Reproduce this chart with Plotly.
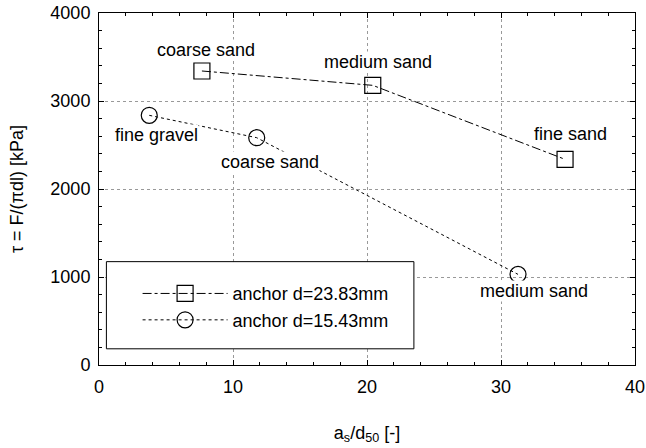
import plotly.graph_objects as go

# data
sq_x = [7.68, 20.43, 34.78]
sq_y = [3341, 3178, 2337]
sq_labels = ["coarse sand", "medium sand", "fine sand"]
ci_x = [3.75, 11.77, 31.27]
ci_y = [2837, 2583, 1030]
ci_labels = ["fine gravel", "coarse sand", "medium sand"]
label_sq_pos = [(8.0, 3580), (20.8, 3443), (35.2, 2621)]
label_ci_pos = [(4.3, 2610), (12.75, 2307), (32.47, 841)]

FONT = "Liberation Sans, Arial, sans-serif"
FS = 18

fig = go.Figure()
fig.add_trace(go.Scatter(
    x=sq_x, y=sq_y, mode="lines+markers", name="anchor d=23.83mm",
    line=dict(color="black", width=1, dash="dashdot"),
    marker=dict(symbol="square-open", size=16, color="black", line=dict(width=1.2)),
))
fig.add_trace(go.Scatter(
    x=ci_x, y=ci_y, mode="lines+markers", name="anchor d=15.43mm",
    line=dict(color="black", width=1, dash="dot"),
    marker=dict(symbol="circle-open", size=16, color="black", line=dict(width=1.2)),
))

for (px, py), t in zip(label_sq_pos + label_ci_pos, sq_labels + ci_labels):
    fig.add_annotation(x=px, y=py, text=t, showarrow=False,
                       font=dict(size=FS, color="black", family=FONT),
                       bgcolor="white", borderpad=0)

axis_common = dict(
    showline=True, linecolor="black", linewidth=1, mirror="ticks",
    ticks="inside", ticklen=5, tickcolor="black",
    showgrid=True, gridcolor="#999999", griddash="dot", gridwidth=1,
    zeroline=False, tickfont=dict(size=FS, color="black", family=FONT),
    automargin=False, ticklabeloverflow="allow",
)

fig.update_xaxes(range=[0, 40], dtick=10, ticklabelstandoff=5,
                 minor=dict(dtick=2, ticks="inside", ticklen=3, tickcolor="black", showgrid=False),
                 title=dict(text="a<sub>s</sub>/d<sub>50</sub> [-]", font=dict(size=FS, color="black", family=FONT), standoff=30),
                 **axis_common)
fig.update_yaxes(range=[0, 4000], dtick=1000, ticklabelstandoff=4,
                 minor=dict(dtick=200, ticks="inside", ticklen=3, tickcolor="black", showgrid=False),
                 title=dict(text="τ = F/(πdl) [kPa]", font=dict(size=FS, color="black", family=FONT), standoff=22),
                 **axis_common)

# legend frame
fig.add_shape(type="rect", xref="paper", yref="paper",
              x0=0.0138, x1=0.5875, y0=0.046, y1=0.2936,
              line=dict(color="black", width=1), fillcolor="white", layer="above")

fig.update_layout(
    width=646, height=448,
    margin=dict(l=99, r=11, t=13, b=83),
    paper_bgcolor="white", plot_bgcolor="white",
    font=dict(family=FONT, color="black"),
    showlegend=True,
    legend=dict(x=0.072, y=0.255, xanchor="left", yanchor="top",
                borderwidth=0, bgcolor="rgba(0,0,0,0)",
                font=dict(size=FS, color="black", family=FONT),
                itemwidth=85, tracegroupgap=0),
)

fig.write_html("out.html", config={"displayModeBar": False},
               post_script="document.body.style.margin='0';document.body.style.overflow='hidden';")
